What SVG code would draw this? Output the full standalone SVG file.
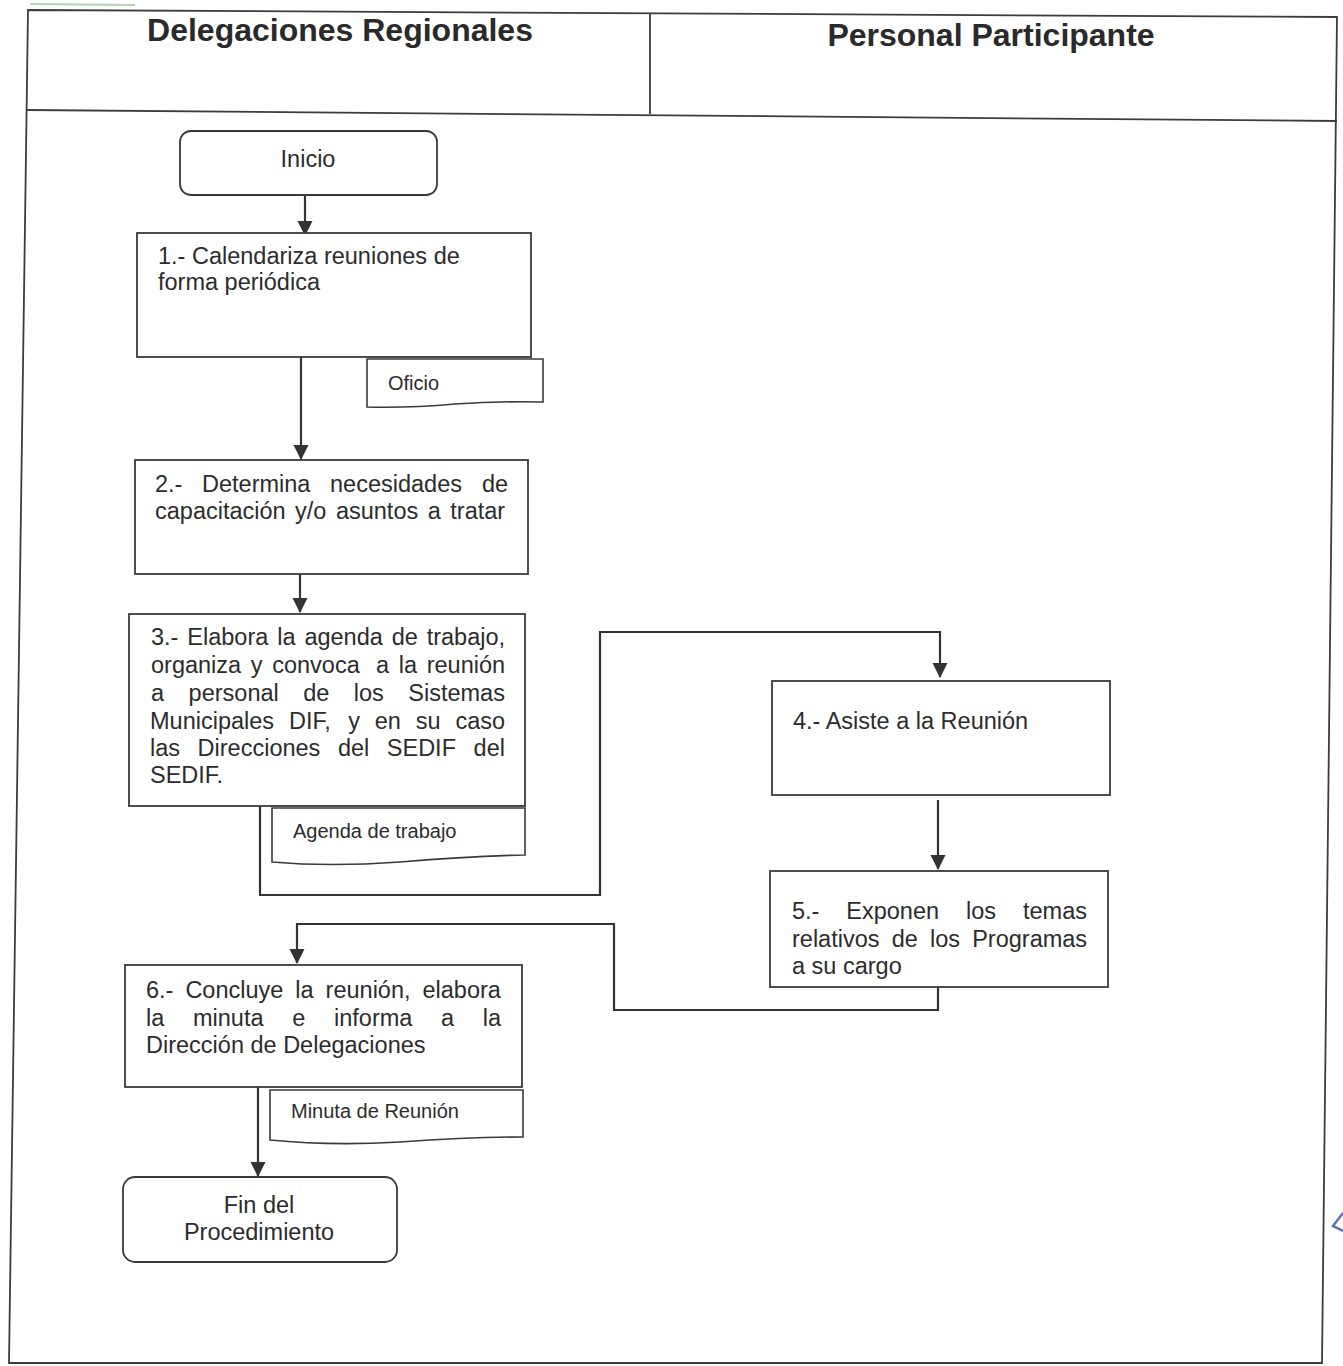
<svg xmlns="http://www.w3.org/2000/svg" width="1343" height="1366" viewBox="0 0 1343 1366">
  <defs>
    <style>
      .frame { fill: none; stroke: #3c3c3c; stroke-width: 1.8; }
      .box { fill: #ffffff; stroke: #3a3a3a; stroke-width: 1.8; }
      .doc { fill: #ffffff; stroke: #3a3a3a; stroke-width: 1.6; }
      .conn { fill: none; stroke: #333333; stroke-width: 2.2; }
      .title { font-family: "Liberation Sans", Arial, sans-serif; font-weight: bold; font-size: 32px; fill: #2a2a2a; }
      .t { font-family: "Liberation Sans", Arial, sans-serif; font-size: 23.5px; fill: #2c2c2c; }
      .d { font-family: "Liberation Sans", Arial, sans-serif; font-size: 20px; fill: #2c2c2c; }
    </style>
    <marker id="arrow" markerWidth="16" markerHeight="16" refX="14" refY="7.5" orient="auto" markerUnits="userSpaceOnUse">
      <path d="M0,0 L15,7.5 L0,15 Z" fill="#333333"/>
    </marker>
  </defs>

  <rect width="1343" height="1366" fill="#ffffff"/>

  <!-- page frame and lane headers -->
  <g id="frame">
    <line x1="30" y1="4" x2="135" y2="5" stroke="#8fc48f" stroke-width="2" opacity="0.7"/>
    <polygon class="frame" points="28,10 1337,17 1322,1363 9,1363"/>
    <line class="frame" x1="27" y1="110" x2="1337" y2="121"/>
    <line class="frame" x1="650" y1="13" x2="650" y2="114"/>
    <text class="title" x="340" y="41" text-anchor="middle">Delegaciones Regionales</text>
    <text class="title" x="991" y="46" text-anchor="middle">Personal Participante</text>
    <path d="M1343,1213 L1333,1226 L1343,1231" fill="none" stroke="#5a6fc0" stroke-width="2.5"/>
  </g>

  <!-- connectors -->
  <g id="connectors">
    <line class="conn" x1="305" y1="195" x2="305" y2="235" marker-end="url(#arrow)"/>
    <line class="conn" x1="301" y1="357" x2="301" y2="459" marker-end="url(#arrow)"/>
    <line class="conn" x1="300" y1="574" x2="300" y2="612" marker-end="url(#arrow)"/>
    <polyline class="conn" points="260,806 260,895 600,895 600,632 940,632 940,677" marker-end="url(#arrow)"/>
    <line class="conn" x1="938" y1="800" x2="938" y2="869" marker-end="url(#arrow)"/>
    <polyline class="conn" points="938,987 938,1010 614,1010 614,924 297,924 297,963" marker-end="url(#arrow)"/>
    <line class="conn" x1="258" y1="1087" x2="258" y2="1176" marker-end="url(#arrow)"/>
  </g>

  <g id="inicio">
    <rect class="box" x="180" y="131" width="257" height="64" rx="11"/>
    <text class="t" x="308" y="167" text-anchor="middle">Inicio</text>
  </g>

  <g id="paso1">
    <rect class="box" x="137" y="233" width="394" height="124"/>
    <text class="t" x="158" y="264">1.- Calendariza reuniones de</text>
    <text class="t" x="158" y="290">forma periódica</text>
  </g>

  <g id="oficio">
    <path class="doc" d="M367,359 H543 V402 Q500,401 455,404 Q410,408 367,407 Z"/>
    <text class="d" x="388" y="390">Oficio</text>
  </g>

  <g id="paso2">
    <rect class="box" x="135" y="460" width="393" height="114"/>
    <text class="t" y="492"><tspan x="155">2.-</tspan><tspan x="202">Determina</tspan><tspan x="330">necesidades</tspan><tspan x="482">de</tspan></text>
    <text class="t" y="519"><tspan x="155">capacitación</tspan><tspan x="295.1">y/o</tspan><tspan x="335.9">asuntos</tspan><tspan x="427.7">a</tspan><tspan x="450.3">tratar</tspan></text>
  </g>

  <g id="paso3">
    <rect class="box" x="129" y="614" width="396" height="192"/>
    <text class="t" y="645"><tspan x="151">3.-</tspan><tspan x="187.3">Elabora</tspan><tspan x="277.2">la</tspan><tspan x="304.4">agenda</tspan><tspan x="391.7">de</tspan><tspan x="426.7">trabajo,</tspan></text>
    <text class="t" y="673"><tspan x="151">organiza</tspan><tspan x="250.8">y</tspan><tspan x="272.2">convoca</tspan><tspan x="375.9">a</tspan><tspan x="398.7">la</tspan><tspan x="426.7">reunión</tspan></text>
    <text class="t" y="701"><tspan x="151">a</tspan><tspan x="188.6">personal</tspan><tspan x="303.2">de</tspan><tspan x="353.8">los</tspan><tspan x="408.3">Sistemas</tspan></text>
    <text class="t" y="729"><tspan x="150">Municipales</tspan><tspan x="289">DIF,</tspan><tspan x="348.2">y</tspan><tspan x="374.8">en</tspan><tspan x="415.8">su</tspan><tspan x="455.4">caso</tspan></text>
    <text class="t" y="756"><tspan x="150">las</tspan><tspan x="197.6">Direcciones</tspan><tspan x="337.9">del</tspan><tspan x="386.8">SEDIF</tspan><tspan x="473.6">del</tspan></text>
    <text class="t" x="150" y="783">SEDIF.</text>
  </g>

  <g id="agenda">
    <path class="doc" d="M272,808 H525 V855 Q470,856 400,862 Q330,867 272,862 Z"/>
    <text class="d" x="293" y="838">Agenda de trabajo</text>
  </g>

  <g id="paso4">
    <rect class="box" x="772" y="681" width="338" height="114"/>
    <text class="t" x="793" y="729">4.- Asiste a la Reunión</text>
  </g>

  <g id="paso5">
    <rect class="box" x="770" y="871" width="338" height="116"/>
    <text class="t" y="919"><tspan x="792">5.-</tspan><tspan x="846.3">Exponen</tspan><tspan x="966">los</tspan><tspan x="1023">temas</tspan></text>
    <text class="t" y="947"><tspan x="792">relativos</tspan><tspan x="891.7">de</tspan><tspan x="930">los</tspan><tspan x="972.2">Programas</tspan></text>
    <text class="t" x="792" y="974">a su cargo</text>
  </g>

  <g id="paso6">
    <rect class="box" x="125" y="965" width="397" height="122"/>
    <text class="t" y="998"><tspan x="146">6.-</tspan><tspan x="185.4">Concluye</tspan><tspan x="295.3">la</tspan><tspan x="325.6">reunión,</tspan><tspan x="422.5">elabora</tspan></text>
    <text class="t" y="1026"><tspan x="146">la</tspan><tspan x="193">minuta</tspan><tspan x="292.2">e</tspan><tspan x="334">informa</tspan><tspan x="441">a</tspan><tspan x="482.8">la</tspan></text>
    <text class="t" x="146" y="1053">Dirección de Delegaciones</text>
  </g>

  <g id="minuta">
    <path class="doc" d="M270,1090 H523 V1137 Q470,1137 400,1142 Q330,1146 270,1140 Z"/>
    <text class="d" x="291" y="1118">Minuta de Reunión</text>
  </g>

  <g id="fin">
    <rect class="box" x="123" y="1177" width="274" height="85" rx="12"/>
    <text class="t" x="259" y="1213" text-anchor="middle">Fin del</text>
    <text class="t" x="259" y="1240" text-anchor="middle">Procedimiento</text>
  </g>
</svg>
